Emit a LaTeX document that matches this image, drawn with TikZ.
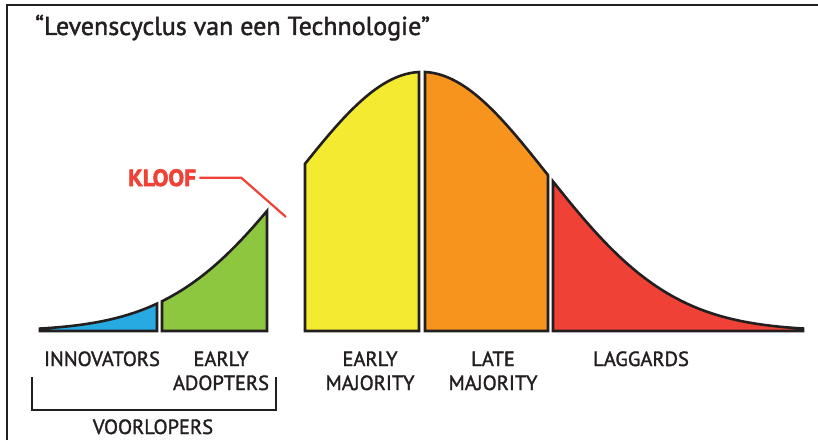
\documentclass[tikz,border=0pt]{standalone}
\usepackage{fontspec}
\setmainfont{PT Sans}
\newfontfamily\labelfont[FakeBold=1.6]{PT Sans}
\newfontfamily\kloofont[FakeBold=2.5]{PT Sans Bold}
\usetikzlibrary{positioning}

\definecolor{ink}{HTML}{231F20}
\definecolor{innovblue}{HTML}{27AAE1}
\definecolor{adoptgreen}{HTML}{8DC63F}
\definecolor{earlyyellow}{HTML}{F4EB31}
\definecolor{lateorange}{HTML}{F7941E}
\definecolor{laggred}{HTML}{EF4136}

\begin{document}
\begin{tikzpicture}[
		x=1pt, y=1pt,
		declare function={bell(\x)=109+259*exp(-0.5*((\x-422)/125)^2);},
		segment/.style={draw=ink, line width=2.6pt, line join=miter},
		group/.style={font={\labelfont\fontsize{20.5}{24}\selectfont}, text=ink, align=center, anchor=base, inner sep=0pt},
	]
		\useasboundingbox (0,0) rectangle (818,440);
		\draw[ink, line width=1.4pt] (7,0) -- (7,435) -- (818,435);

		\node (title) [anchor=base west, inner sep=0pt, text=ink, font={\labelfont\fontsize{26}{28}\selectfont}] at (35,405) {“Levenscyclus van een Technologie”};

		% the five groups under the bell curve
		\filldraw[segment, fill=innovblue] (40,109) -- plot[domain=40:157, samples=40] (\x,{bell(\x)}) -- (157,109) -- cycle;
		\filldraw[segment, fill=adoptgreen] (162,109) -- plot[domain=162:267, samples=40] (\x,{bell(\x)}) -- (267,109) -- cycle;
		\filldraw[segment, fill=earlyyellow] (305,109) -- plot[domain=305:419, samples=40] (\x,{bell(\x)}) -- (419,109) -- cycle;
		\filldraw[segment, fill=lateorange] (425,109) -- plot[domain=425:548, samples=40] (\x,{bell(\x)}) -- (548,109) -- cycle;
		\filldraw[segment, fill=laggred] (553,109) -- plot[domain=553:803, samples=60] (\x,{bell(\x)}) -- (803,109) -- cycle;

		% the chasm
		\node (kloof) [anchor=base west, inner sep=3pt, text=laggred, font={\kloofont\fontsize{23.5}{24}\selectfont}] at (125,254) {KLOOF};
		\coordinate (chasm) at (286,223);
		\draw[laggred, line width=2.2pt] (kloof.east) -- ++(42,0) -- (chasm);

		% labels: the base of a two-line label is its last line
		\node (innov) [group] at (102,74) {INNOVATORS};
		\node (adopt) [group] at (221,50) {EARLY\\ADOPTERS};
		\node (earlymaj) [group] at (370,50) {EARLY\\MAJORITY};
		\node (latemaj) [group] at (493,50) {LATE\\MAJORITY};
		\node (lagg) [group] at (641,74) {LAGGARDS};

		% bracket round the first two groups
		\coordinate (brl) at (32,63);
		\coordinate (brr) at (276,63);
		\draw[ink, line width=2pt] (brl) -- ++(0,-33) -| (brr);
		\node (voor) [group] at (153,6) {VOORLOPERS};
	\end{tikzpicture}
\end{document}
